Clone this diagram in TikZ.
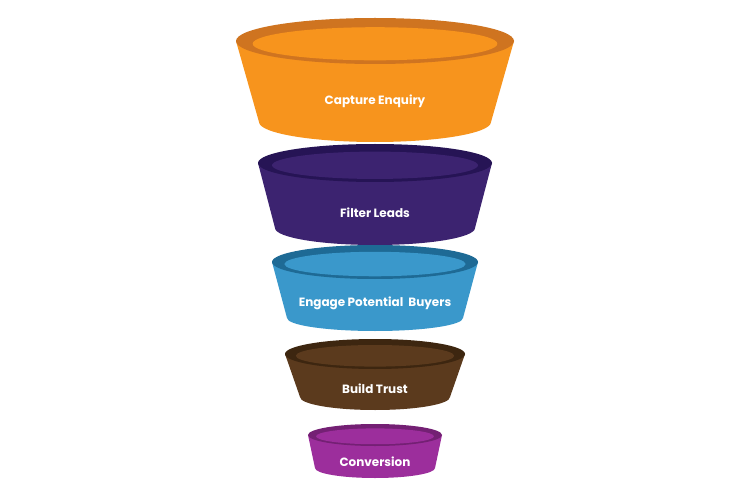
\documentclass[tikz,border=0pt]{standalone}
\usepackage{fontspec}
\setmainfont{Poppins}
\definecolor{capOrange}{HTML}{F7941D}
\definecolor{capOrangeRim}{HTML}{CF7420}
\definecolor{filPurple}{HTML}{3C2370}
\definecolor{filPurpleRim}{HTML}{261455}
\definecolor{engBlue}{HTML}{3A98CB}
\definecolor{engBlueRim}{HTML}{1E6A95}
\definecolor{buiBrown}{HTML}{5B3A1D}
\definecolor{buiBrownRim}{HTML}{3D2610}
\definecolor{conMagenta}{HTML}{9C2E9C}
\definecolor{conMagentaRim}{HTML}{742074}
\tikzset{layerlabel/.style={text=white,font=\bfseries\fontsize{12}{14}\selectfont}}
% #1 y top, #2 half width top, #3 half height top, #4 y bottom, #5 half width bottom,
% #6 half height bottom, #7 colour, #8 rim colour, #9 label
\newcommand{\drawFunnelLayer}[9]{
	\fill[#7] (375-#2,#1) -- (375-#5,#4)
		arc[start angle=180,end angle=0,x radius=#5,y radius=#6]
		-- (375+#2,#1) -- cycle;
	\fill[#8] (375,#1) ellipse[x radius=#2,y radius=#3];
	\fill[#7] (375,#1+0.12*#3) ellipse[x radius=0.88*#2,y radius=0.72*#3];
	\node[layerlabel] at (375,{(#1+#4)/2+#6}) {#9};
}

\begin{document}
\begin{tikzpicture}[x=1pt,y=-1pt]
	\useasboundingbox (0,0) rectangle (750,500);
	\fill[white] (0,0) rectangle (750,500);

	\drawFunnelLayer{41}{139}{23}{122}{116}{20}{capOrange}{capOrangeRim}{Capture Enquiry}
	\drawFunnelLayer{163}{117}{19}{228}{100}{17}{filPurple}{filPurpleRim}{Filter Leads}
	\drawFunnelLayer{262}{103}{17}{318}{88}{13}{engBlue}{engBlueRim}{Engage Potential\ \ Buyers}
	\drawFunnelLayer{354}{90}{15}{397}{75}{13}{buiBrown}{buiBrownRim}{Build Trust}
	\drawFunnelLayer{435}{67}{11}{468}{60}{10}{conMagenta}{conMagentaRim}{Conversion}
\end{tikzpicture}
\end{document}
